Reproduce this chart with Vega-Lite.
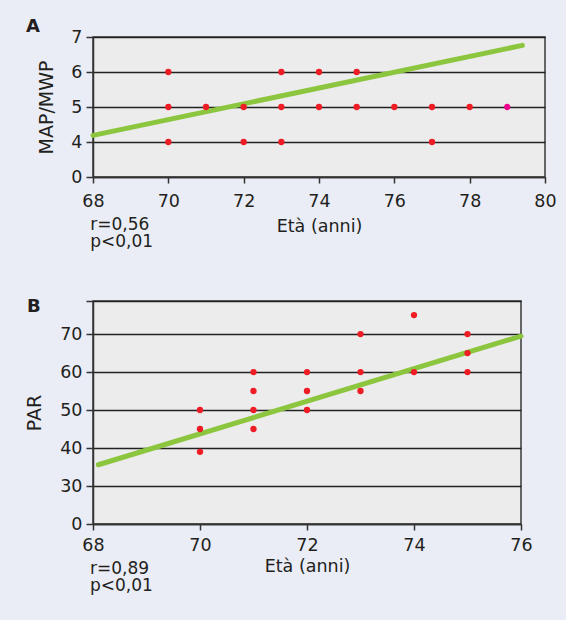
{
  "$schema": "https://vega.github.io/schema/vega-lite/v6.json",
  "background": "#eaedf5",
  "padding": {"left": 24, "top": 17, "right": 10, "bottom": 25},
  "spacing": 40,
  "datasets": {
    "A_points": [
      {"age": 70, "score": 6, "group": "base"},
      {"age": 73, "score": 6, "group": "base"},
      {"age": 74, "score": 6, "group": "base"},
      {"age": 75, "score": 6, "group": "base"},
      {"age": 70, "score": 5, "group": "base"},
      {"age": 71, "score": 5, "group": "base"},
      {"age": 72, "score": 5, "group": "base"},
      {"age": 73, "score": 5, "group": "base"},
      {"age": 74, "score": 5, "group": "base"},
      {"age": 75, "score": 5, "group": "base"},
      {"age": 76, "score": 5, "group": "base"},
      {"age": 77, "score": 5, "group": "base"},
      {"age": 78, "score": 5, "group": "base"},
      {"age": 79, "score": 5, "group": "highlight"},
      {"age": 70, "score": 4, "group": "base"},
      {"age": 72, "score": 4, "group": "base"},
      {"age": 73, "score": 4, "group": "base"},
      {"age": 77, "score": 4, "group": "base"}
    ],
    "A_line": [
      {"age": 68, "score": 4.19},
      {"age": 79.4, "score": 6.76}
    ],
    "B_points": [
      {"age": 70, "par": 50, "group": "base"},
      {"age": 70, "par": 45, "group": "base"},
      {"age": 70, "par": 39, "group": "base"},
      {"age": 71, "par": 60, "group": "base"},
      {"age": 71, "par": 55, "group": "base"},
      {"age": 71, "par": 50, "group": "base"},
      {"age": 71, "par": 45, "group": "base"},
      {"age": 72, "par": 60, "group": "base"},
      {"age": 72, "par": 55, "group": "base"},
      {"age": 72, "par": 50, "group": "base"},
      {"age": 73, "par": 70, "group": "base"},
      {"age": 73, "par": 60, "group": "base"},
      {"age": 73, "par": 55, "group": "base"},
      {"age": 74, "par": 75, "group": "base"},
      {"age": 74, "par": 60, "group": "base"},
      {"age": 75, "par": 70, "group": "base"},
      {"age": 75, "par": 65, "group": "base"},
      {"age": 75, "par": 60, "group": "base"}
    ],
    "B_line": [
      {"age": 68.1, "par": 35.6},
      {"age": 76, "par": 69.45}
    ]
  },
  "config": {
    "font": "DejaVu Sans",
    "view": {"stroke": "#3a3a3a", "strokeWidth": 1.5, "fill": "#ececec"},
    "axis": {
      "labelFontSize": 17.5,
      "labelColor": "#231f20",
      "labelFlush": false,
      "labelOverlap": false,
      "tickCount": 20,
      "format": "d",
      "titleFontSize": 17.5,
      "titleFontWeight": "normal",
      "titleColor": "#231f20",
      "domainColor": "#333333",
      "domainWidth": 1.5,
      "tickColor": "#333333",
      "tickWidth": 1.5,
      "tickSize": 6,
      "gridColor": "#222222",
      "gridWidth": 1.5,
      "gridOpacity": 1
    }
  },
  "vconcat": [
    {
      "title": {"text": ["r=0,56", "p<0,01"], "orient": "bottom", "anchor": "start", "fontSize": 17, "fontWeight": "normal", "lineHeight": 17.5, "offset": -19, "dx": 65, "color": "#231f20"},
      "vconcat": [
        {
          "width": 452,
          "height": 140,
          "title": {"text": "A", "orient": "top", "anchor": "start", "frame": "group", "fontSize": 18, "fontWeight": "bold", "baseline": "alphabetic", "offset": -22, "dx": -67, "color": "#231f20"},
          "layer": [
            {
              "data": {"name": "A_line"},
              "mark": {"type": "line", "color": "#8cc63e", "strokeWidth": 5, "strokeCap": "round"},
              "encoding": {
                "x": {"field": "age", "type": "quantitative", "scale": {"domain": [68, 80], "nice": false, "zero": false}},
                "y": {"field": "score", "type": "quantitative", "scale": {"domain": [3, 7], "nice": false, "zero": false}}
              }
            },
            {
              "data": {"name": "A_points"},
              "mark": {"type": "circle", "size": 40, "opacity": 1},
              "encoding": {
                "x": {"field": "age", "type": "quantitative", "title": "Età (anni)",
                  "axis": {"values": [68, 70, 72, 74, 76, 78, 80], "grid": false, "labelPadding": 9, "titlePadding": 8}},
                "y": {"field": "score", "type": "quantitative", "title": "MAP/MWP",
                  "axis": {"values": [3, 4, 5, 6, 7], "labelExpr": "datum.value == 3 ? '0' : datum.label", "tickSize": 7, "labelPadding": 4, "titleFontSize": 19, "titlePadding": 14}},
                "color": {"field": "group", "type": "nominal", "scale": {"domain": ["base", "highlight"], "range": ["#ee1c25", "#ec008c"]}, "legend": null}
              }
            }
          ]
        }
      ]
    },
    {
      "title": {"text": ["r=0,89", "p<0,01"], "orient": "bottom", "anchor": "start", "fontSize": 17, "fontWeight": "normal", "lineHeight": 17.5, "offset": -15, "dx": 65, "color": "#231f20"},
      "vconcat": [
        {
          "width": 428,
          "height": 223,
          "title": {"text": "B", "orient": "top", "anchor": "start", "frame": "group", "fontSize": 18, "fontWeight": "bold", "baseline": "alphabetic", "offset": -38, "dx": -66, "color": "#231f20"},
          "layer": [
            {
              "data": {"name": "B_line"},
              "mark": {"type": "line", "color": "#8cc63e", "strokeWidth": 5, "strokeCap": "round"},
              "encoding": {
                "x": {"field": "age", "type": "quantitative", "scale": {"domain": [68, 76], "nice": false, "zero": false}},
                "y": {"field": "par", "type": "quantitative", "scale": {"domain": [20, 78.7], "nice": false, "zero": false}}
              }
            },
            {
              "data": {"name": "B_points"},
              "mark": {"type": "circle", "size": 40, "opacity": 1},
              "encoding": {
                "x": {"field": "age", "type": "quantitative", "title": "Età (anni)",
                  "axis": {"values": [68, 70, 72, 74, 76], "grid": false, "labelPadding": 6, "titlePadding": 4}},
                "y": {"field": "par", "type": "quantitative", "title": "PAR",
                  "axis": {"values": [20, 30, 40, 50, 60, 70, 78.7], "labelExpr": "datum.value == 20 ? '0' : (datum.value > 75 ? '' : datum.label)", "tickSize": 7, "labelPadding": 4, "titleFontSize": 19, "titlePadding": 15}},
                "color": {"field": "group", "type": "nominal", "scale": {"domain": ["base", "highlight"], "range": ["#ee1c25", "#ec008c"]}, "legend": null}
              }
            }
          ]
        }
      ]
    }
  ]
}
